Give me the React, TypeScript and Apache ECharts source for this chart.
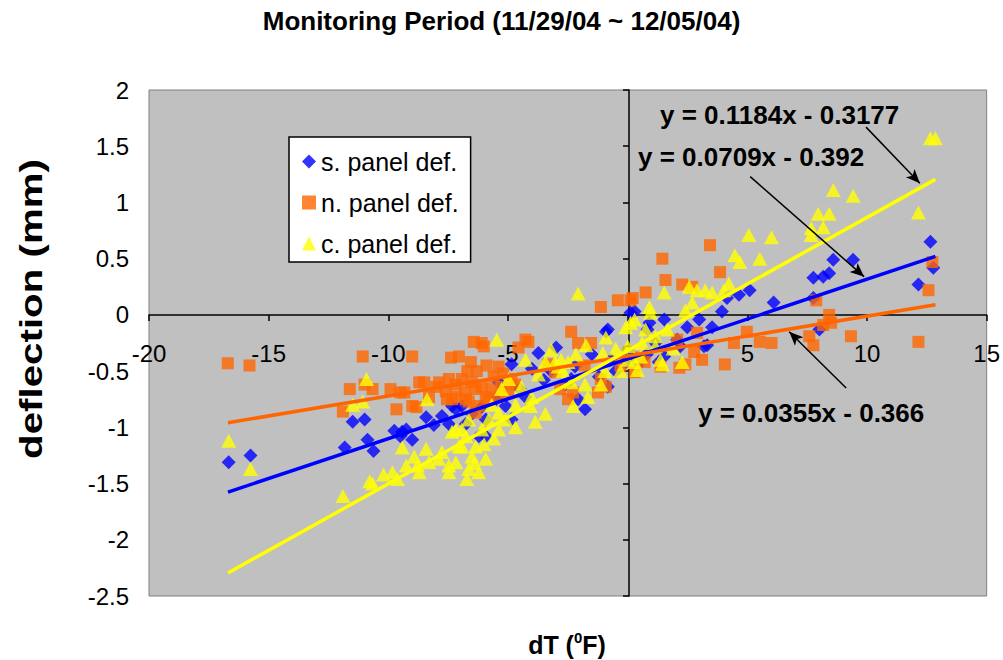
import React, { useEffect, useRef } from "react";
import * as echarts from "echarts";

const FONT = '"Liberation Sans", Arial, Helvetica, sans-serif';

const TITLE = "Monitoring Period (11/29/04 ~ 12/05/04)";
const X_TICKS = { min: -20, max: 15, interval: 5 };
const Y_TICKS = { min: -2.5, max: 2, interval: 0.5 };

// s. panel def. (blue diamonds)
const sPanel: number[][] = [
  [-16.67, -1.31], [-15.76, -1.25], [-11.82, -1.18], [-11.49, -0.95], [-10.99, -0.93], [-10.87, -1.11],
  [-10.62, -1.21], [-9.75, -1.03], [-9.5, -1.08], [-9.42, -1.04], [-9.25, -1.02], [-9.0, -1.11],
  [-8.42, -0.91], [-8.1, -0.98], [-7.76, -0.9], [-7.47, -0.97], [-7.18, -0.84], [-6.93, -0.81],
  [-6.76, -0.97], [-7.34, -0.81], [-6.5, -0.88], [-6.22, -1.08], [-6.1, -0.82], [-5.93, -1.08],
  [-5.93, -0.93], [-5.5, -0.75], [-5.39, -0.6], [-5.1, -0.81], [-4.85, -0.44], [-4.85, -0.93],
  [-4.5, -0.66], [-4.27, -0.73], [-4.0, -0.48], [-3.73, -0.34], [-3.5, -0.58], [-3.2, -0.5],
  [-2.99, -0.29], [-2.6, -0.62], [-2.36, -0.57], [-2.2, -0.46], [-2.07, -0.75], [-1.78, -0.84],
  [-1.5, -0.35], [-1.2, -0.55], [-0.91, -0.15], [-0.83, -0.64], [-0.71, -0.4], [-0.83, -0.13],
  [-0.5, -0.5], [-0.08, -0.42], [0.12, 0.02], [0.12, -0.37], [0.29, 0.03], [0.4, -0.45],
  [0.8, -0.35], [0.83, -0.13], [0.91, -0.07], [1.16, -0.25], [1.3, -0.42], [1.53, -0.04],
  [1.53, -0.37], [2.07, -0.22], [2.2, -0.28], [2.49, -0.11], [2.99, -0.04], [3.19, -0.28],
  [3.32, -0.27], [3.53, -0.11], [3.94, 0.03], [4.15, 0.15], [4.65, 0.18], [5.1, 0.22],
  [6.1, 0.11], [7.76, 0.15], [7.76, 0.33], [8.01, -0.13], [8.17, 0.34], [8.42, 0.37],
  [8.59, 0.49], [9.42, 0.49], [12.15, 0.27], [12.65, 0.65], [12.77, 0.42],
];

// n. panel def. (orange squares)
const nPanel: number[][] = [
  [-16.71, -0.43], [-15.8, -0.45], [-11.9, -0.86], [-11.61, -0.66], [-11.07, -0.37], [-10.99, -0.62],
  [-10.66, -0.66], [-9.91, -0.66], [-9.66, -0.84], [-9.5, -0.69], [-9.33, -0.69], [-9.0, -0.37],
  [-9.0, -0.81], [-8.83, -0.82], [-8.71, -0.6], [-8.5, -0.6], [-8.3, -0.73], [-8.0, -0.64],
  [-7.88, -0.6], [-7.6, -0.68], [-7.55, -0.75], [-7.47, -0.57], [-7.38, -0.38], [-7.34, -0.75],
  [-7.2, -0.62], [-7.18, -0.73], [-7.05, -0.37], [-6.93, -0.57], [-6.8, -0.68], [-6.76, -0.75],
  [-6.7, -0.5], [-6.64, -0.77], [-6.55, -0.42], [-6.51, -0.6], [-6.43, -0.24], [-6.35, -0.66],
  [-6.35, -0.87], [-6.3, -0.5], [-6.22, -0.81], [-6.1, -0.64], [-6.1, -0.25], [-6.01, -0.28],
  [-5.93, -0.73], [-5.9, -0.45], [-5.81, -0.75], [-5.68, -0.66], [-5.6, -0.55], [-5.39, -0.46],
  [-5.39, -0.73], [-5.27, -0.64], [-5.2, -0.52], [-5.0, -0.68], [-4.85, -0.57], [-4.7, -0.62],
  [-4.56, -0.29], [-4.27, -0.22], [-4.15, -0.24], [-3.32, -0.44], [-3.03, -0.51], [-2.82, -0.66],
  [-2.49, -0.75], [-2.36, -0.15], [-2.28, -0.69], [-2.07, -0.25], [-1.8, -0.45], [-1.53, -0.25],
  [-1.24, -0.69], [-1.12, 0.07], [-1.12, -0.57], [-0.91, -0.64], [-0.41, 0.13], [-0.3, -0.45],
  [0.12, 0.13], [0.29, -0.51], [0.21, 0.15], [0.5, -0.38], [0.71, -0.42], [0.75, 0.2],
  [1.37, -0.46], [1.45, 0.5], [1.58, 0.31], [2.07, -0.22], [2.16, -0.47], [2.28, 0.27],
  [2.41, -0.44], [2.7, 0.25], [2.78, -0.33], [2.9, -0.16], [3.11, -0.4], [3.44, 0.62],
  [3.86, 0.38], [4.06, -0.44], [4.44, -0.25], [4.98, -0.15], [5.52, -0.24], [6.01, -0.25],
  [7.59, -0.19], [7.76, -0.27], [7.88, 0.13], [8.17, -0.09], [8.42, 0.0], [8.5, -0.07],
  [9.33, -0.19], [12.15, -0.24], [12.57, 0.22], [12.73, 0.47],
];

// c. panel def. (yellow triangles)
const cPanel: number[][] = [
  [-16.67, -1.12], [-15.76, -1.37], [-11.9, -1.61], [-11.49, -0.8], [-11.07, -0.77], [-10.91, -0.57],
  [-10.78, -1.48], [-10.66, -1.5], [-10.2, -1.42], [-9.83, -1.4], [-9.62, -1.46], [-9.42, -1.18],
  [-9.25, -1.34], [-8.92, -1.26], [-8.79, -1.34], [-8.71, -1.4], [-8.42, -1.19], [-8.38, -0.75],
  [-8.3, -1.31], [-7.9, -1.28], [-7.76, -1.22], [-7.47, -1.34], [-7.47, -1.4], [-7.34, -1.04],
  [-7.18, -1.31], [-7.18, -1.02], [-7.05, -1.17], [-6.93, -1.02], [-6.93, -1.17], [-6.76, -1.08],
  [-6.72, -1.46], [-6.64, -0.93], [-6.64, -1.37], [-6.51, -1.26], [-6.4, -1.32], [-6.35, -1.17],
  [-6.22, -1.4], [-6.1, -1.02], [-6.0, -1.15], [-5.93, -1.28], [-5.81, -0.93], [-5.68, -0.8],
  [-5.6, -1.1], [-5.47, -0.22], [-5.39, -0.87], [-5.39, -1.02], [-5.27, -0.66], [-5.1, -0.93],
  [-4.98, -0.57], [-4.69, -0.8], [-4.69, -1.0], [-4.44, -0.64], [-4.27, -0.4], [-4.06, -0.81],
  [-4.02, -0.73], [-3.86, -0.95], [-3.73, -0.53], [-3.44, -0.42], [-3.44, -0.88], [-3.19, -0.31],
  [-3.03, -0.42], [-2.9, -0.46], [-2.78, -0.4], [-2.7, -0.5], [-2.49, -0.42], [-2.36, -0.6],
  [-2.28, -0.81], [-2.16, -0.35], [-2.07, 0.19], [-1.78, -0.62], [-1.74, -0.27], [-1.66, -0.73],
  [-1.12, -0.62], [-1.04, -0.34], [-0.95, -0.5], [-0.91, -0.2], [-0.5, -0.3], [-0.3, -0.5],
  [-0.08, -0.11], [0.0, -0.28], [0.0, -0.4], [0.12, -0.07], [0.29, -0.04], [0.29, -0.42],
  [0.41, -0.49], [0.54, -0.37], [0.6, -0.25], [0.75, -0.13], [0.91, 0.07], [0.95, 0.02],
  [1.16, -0.19], [1.16, -0.28], [1.37, -0.4], [1.45, -0.44], [1.53, 0.2], [1.66, -0.13],
  [1.9, -0.3], [2.28, -0.42], [2.41, 0.04], [2.57, 0.25], [2.7, 0.11], [2.9, 0.22],
  [3.24, 0.22], [3.53, 0.2], [4.02, 0.22], [4.23, 0.28], [4.48, 0.53], [4.69, 0.47],
  [5.06, 0.71], [5.52, 0.5], [6.01, 0.69], [7.67, 0.71], [7.67, 0.77], [7.96, 0.9],
  [8.17, 0.78], [8.42, 0.9], [8.59, 1.11], [9.42, 1.06], [12.15, 0.91], [12.65, 1.57],
  [12.86, 1.57],
];

// Linear trend lines (end points over the data range)
const sTrend: number[][] = [[-16.7, -1.576], [12.86, 0.52]];
const nTrend: number[][] = [[-16.7, -0.959], [12.86, 0.091]];
const cTrend: number[][] = [[-16.7, -2.295], [12.86, 1.205]];

const EQ_C = "y = 0.1184x - 0.3177";
const EQ_S = "y = 0.0709x - 0.392";
const EQ_N = "y = 0.0355x - 0.366";

// Arrow annotations [start, tip] in data coordinates
const arrowC: number[][] = [[9.96, 1.67], [12.21, 1.17]];
const arrowS: number[][] = [[5.12, 1.23], [9.88, 0.34]];
const arrowN: number[][] = [[9.13, -0.65], [6.75, -0.15]];

const BLUE = "#0000FF";
const ORANGE = "#FF6600";
const YELLOW = "#FFFF00";

// grid geometry
const G_LEFT = 149;
const G_RIGHT = 14;
const G_TOP = 90;
const G_BOTTOM = 64;
const W = 1003;
const H = 660;

export default function App() {
  const ref = useRef<HTMLDivElement>(null);

  useEffect(() => {
    if (!ref.current) return;
    const chart = echarts.init(ref.current, undefined, { renderer: "svg" });

    const gridW = W - G_LEFT - G_RIGHT;
    const gridH = H - G_TOP - G_BOTTOM;
    // offsets that bring the axis lines onto the zero of the other axis
    const xZeroOffset = -Math.round((gridH * (0 - Y_TICKS.min)) / (Y_TICKS.max - Y_TICKS.min));
    const yZeroOffset = -Math.round((gridW * (0 - X_TICKS.min)) / (X_TICKS.max - X_TICKS.min));

    const eqStyle = (text: string) => ({
      text,
      fontSize: 26,
      fontWeight: "bold",
      fontFamily: FONT,
      fill: "#000",
      align: "left",
      verticalAlign: "middle",
    });

    const option: any = {
      animation: false,
      textStyle: { fontFamily: FONT },
      title: {
        text: TITLE,
        left: "center",
        top: 8,
        padding: 0,
        textStyle: { fontSize: 26, fontWeight: "bold", color: "#000", fontFamily: FONT },
      },
      grid: {
        left: G_LEFT,
        right: G_RIGHT,
        top: G_TOP,
        bottom: G_BOTTOM,
        show: true,
        backgroundColor: "#C0C0C0",
        borderColor: "#808080",
        borderWidth: 1,
      },
      legend: {
        orient: "vertical",
        left: 289,
        top: 137,
        padding: [12, 12, 6, 13],
        itemGap: 16,
        itemWidth: 14,
        itemHeight: 14,
        backgroundColor: "#FFFFFF",
        borderColor: "#000000",
        borderWidth: 1.5,
        selectedMode: false,
        textStyle: { fontSize: 25, color: "#000", fontFamily: FONT },
        data: [
          { name: "s. panel def.", icon: "diamond" },
          { name: "n. panel def.", icon: "rect" },
          { name: "c. panel def.", icon: "triangle" },
        ],
      },
      xAxis: {
        type: "value",
        min: X_TICKS.min,
        max: X_TICKS.max,
        interval: X_TICKS.interval,
        position: "bottom",
        offset: xZeroOffset,
        axisLine: { show: true, onZero: false, lineStyle: { color: "#000", width: 1.5 } },
        axisTick: { show: true, length: 6, lineStyle: { color: "#000", width: 1.5 } },
        axisLabel: { fontSize: 24, color: "#000", margin: 26, fontFamily: FONT },
        splitLine: { show: false },
      },
      yAxis: [
        {
          type: "value",
          min: Y_TICKS.min,
          max: Y_TICKS.max,
          interval: Y_TICKS.interval,
          position: "left",
          axisLine: { show: false, onZero: false },
          axisTick: { show: false },
          axisLabel: { fontSize: 24, color: "#000", margin: 20, fontFamily: FONT },
          splitLine: { show: false },
        },
        {
          type: "value",
          min: Y_TICKS.min,
          max: Y_TICKS.max,
          interval: Y_TICKS.interval,
          position: "left",
          offset: yZeroOffset,
          axisLine: { show: true, onZero: false, lineStyle: { color: "#000", width: 1.5 } },
          axisTick: { show: true, length: 6, lineStyle: { color: "#000", width: 1.5 } },
          axisLabel: { show: false },
          splitLine: { show: false },
        },
      ],
      series: [
        {
          name: "s. panel def.",
          type: "scatter",
          data: sPanel,
          symbol: "diamond",
          symbolSize: 14,
          itemStyle: { color: BLUE },
          silent: true,
          z: 2,
        },
        {
          name: "n. panel def.",
          type: "scatter",
          data: nPanel,
          symbol: "rect",
          symbolSize: 12,
          itemStyle: { color: ORANGE },
          silent: true,
          z: 2,
        },
        {
          name: "c. panel def.",
          type: "scatter",
          data: cPanel,
          symbol: "triangle",
          symbolSize: [15, 14],
          itemStyle: { color: YELLOW },
          silent: true,
          z: 2,
        },
        {
          name: "s trend",
          type: "line",
          data: sTrend,
          symbol: "none",
          lineStyle: { color: BLUE, width: 3.5 },
          silent: true,
          z: 3,
        },
        {
          name: "n trend",
          type: "line",
          data: nTrend,
          symbol: "none",
          lineStyle: { color: ORANGE, width: 3.5 },
          silent: true,
          z: 3,
        },
        {
          name: "c trend",
          type: "line",
          data: cTrend,
          symbol: "none",
          lineStyle: { color: YELLOW, width: 3.5 },
          silent: true,
          z: 3,
          markLine: {
            silent: true,
            symbol: ["none", "arrow"],
            symbolSize: [9, 14],
            label: { show: false },
            lineStyle: { color: "#000", width: 1.5, type: "solid" },
            emphasis: { disabled: true },
            data: [arrowC, arrowS, arrowN].map((a) => [
              { coord: a[0] },
              { coord: a[1] },
            ]),
          },
        },
      ],
      graphic: [
        {
          type: "text",
          x: 31,
          y: 309,
          rotation: Math.PI / 2,
          scaleX: 1.3,
          style: {
            text: "deflection (mm)",
            fontSize: 31,
            fontWeight: "bold",
            fontFamily: FONT,
            fill: "#000",
            align: "center",
            verticalAlign: "middle",
          },
        },
        {
          type: "text",
          x: 567,
          y: 645,
          style: {
            text: "{a|dT (}{b|0}{a|F)}",
            align: "center",
            verticalAlign: "middle",
            fill: "#000",
            rich: {
              a: { fontSize: 25, fontWeight: "bold", fontFamily: FONT, fill: "#000", lineHeight: 30 },
              b: { fontSize: 15, fontWeight: "bold", fontFamily: FONT, fill: "#000", lineHeight: 15, verticalAlign: "top" },
            },
          },
        },
        { type: "text", x: 660, y: 115, z: 10, style: eqStyle(EQ_C) },
        { type: "text", x: 638, y: 157, z: 10, style: eqStyle(EQ_S) },
        { type: "text", x: 698, y: 413, z: 10, style: eqStyle(EQ_N) },
      ],
    };

    chart.setOption(option);
    return () => chart.dispose();
  }, []);

  return (
    <div
      ref={ref}
      style={{ position: "fixed", left: 0, top: 0, width: W, height: H, background: "#fff" }}
    />
  );
}
